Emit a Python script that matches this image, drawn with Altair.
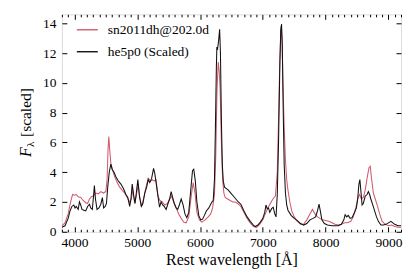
import altair as alt
import pandas as pd

series_names = ["sn2011dh@202.0d", "he5p0 (Scaled)"]
series_colors = ["#cf5b6f", "#111111"]

red_wave = [3800, 3850, 3900, 3940, 3970, 4000, 4030, 4060, 4100, 4140, 4180, 4210, 4240, 4270, 4300,
            4340, 4380, 4420, 4460, 4500, 4520, 4535, 4548, 4560, 4580, 4610, 4640, 4680, 4720, 4760,
            4800, 4840, 4880, 4905, 4930, 4960, 4985, 5015, 5040, 5070, 5100, 5140, 5175, 5210, 5240,
            5270, 5300, 5330, 5360, 5400, 5440, 5480, 5520, 5545, 5580, 5620, 5660, 5700, 5740, 5780,
            5820, 5860, 5890, 5920, 5950, 5990, 6030, 6080, 6130, 6170, 6200, 6230, 6250, 6270, 6290,
            6305, 6320, 6340, 6360, 6380, 6400, 6440, 6480, 6520, 6560, 6600, 6650, 6700, 6750, 6800,
            6850, 6900, 6950, 7000, 7040, 7080, 7120, 7160, 7200, 7230, 7250, 7270, 7290, 7305, 7320,
            7340, 7360, 7380, 7400, 7430, 7460, 7500, 7550, 7600, 7650, 7700, 7750, 7790, 7830, 7870,
            7910, 7950, 8000, 8050, 8100, 8150, 8200, 8250, 8300, 8350, 8400, 8440, 8480, 8510, 8540,
            8570, 8600, 8630, 8660, 8690, 8710, 8730, 8760, 8790, 8820, 8860, 8900, 8950, 9000, 9050,
            9100, 9150, 9200]
red_flux = [0.4, 0.6, 1.2, 2.0, 2.5, 2.45, 2.5, 2.35, 2.3, 2.1, 1.95, 1.9, 2.2, 2.35, 2.4,
            2.6, 2.55, 2.7, 2.6, 2.7, 3.5, 5.5, 6.4, 5.6, 4.6, 4.1, 3.7, 3.3, 3.0, 2.8,
            2.6, 2.3, 2.0, 2.2, 2.8, 1.9, 2.4, 3.2, 2.3, 1.7, 2.2, 3.0, 3.6, 3.4, 3.5,
            3.4, 3.5, 2.4, 2.1, 2.0, 1.8, 1.9, 2.2, 2.4, 2.0, 1.6, 1.2, 0.9, 0.65, 0.6,
            1.0, 2.4, 3.3, 2.6, 1.3, 0.8, 0.65, 0.8, 1.0, 1.2, 1.6, 2.5, 5.0, 9.5, 11.4,
            10.8, 9.6, 6.0, 3.5, 2.6, 2.3, 2.2, 2.1, 2.0, 2.0, 1.9, 1.7, 1.3, 0.9, 0.6,
            0.35, 0.3, 0.5, 0.8, 1.2, 1.6, 1.9, 2.2, 2.4, 4.0, 7.5, 11.5, 13.8, 13.0, 10.0,
            7.0, 4.8, 3.5, 2.8, 2.0, 1.4, 1.0, 0.7, 0.5, 0.5, 0.8, 1.2, 1.5, 1.2, 1.0,
            0.9, 0.8, 0.75, 0.7, 0.6, 0.5, 0.45, 0.5, 0.6, 0.6, 0.7, 1.0, 1.6, 2.2, 2.5,
            2.2, 2.3, 2.8, 3.6, 4.3, 4.4, 3.6, 2.6, 2.2, 1.8, 1.2, 0.7, 0.5, 0.4, 0.45,
            0.35, 0.3, 0.3]

black_wave = [3800, 3850, 3900, 3930, 3960, 3990, 4010, 4030, 4060, 4080, 4100, 4120, 4150, 4180, 4210,
              4240, 4260, 4285, 4300, 4318, 4335, 4360, 4390, 4420, 4445, 4465, 4490, 4510, 4530, 4555,
              4580, 4600, 4630, 4660, 4700, 4740, 4780, 4820, 4850, 4880, 4900, 4920, 4945, 4965, 4985,
              5010, 5035, 5065, 5090, 5120, 5150, 5175, 5200, 5230, 5260, 5280, 5300, 5330, 5355, 5380,
              5405, 5430, 5460, 5490, 5515, 5540, 5565, 5590, 5620, 5645, 5670, 5700, 5730, 5760, 5790,
              5820, 5850, 5880, 5900, 5925, 5950, 5980, 6010, 6040, 6070, 6100, 6140, 6170, 6190, 6210,
              6230, 6245, 6260, 6268, 6280, 6295, 6312, 6325, 6340, 6355, 6370, 6390, 6420, 6450, 6490,
              6530, 6570, 6610, 6650, 6700, 6750, 6800, 6850, 6880, 6920, 6960, 7000, 7030, 7050, 7070,
              7090, 7110, 7140, 7165, 7190, 7210, 7230, 7250, 7270, 7285, 7298, 7310, 7325, 7340, 7360,
              7380, 7400, 7450, 7500, 7550, 7600, 7650, 7700, 7750, 7800, 7840, 7870, 7895, 7915, 7940,
              7980, 8030, 8100, 8150, 8200, 8250, 8290, 8310, 8335, 8360, 8390, 8420, 8460, 8490, 8510,
              8530, 8545, 8560, 8580, 8600, 8630, 8660, 8680, 8700, 8720, 8750, 8780, 8810, 8840, 8880,
              8920, 8960, 9000, 9040, 9070, 9100, 9150, 9200]
black_flux = [0.3, 0.4, 0.9, 1.4, 1.7, 1.8, 1.6, 1.7, 1.5, 2.0, 1.8, 1.5, 1.45, 1.4, 1.7,
              1.85, 1.6, 1.5, 2.2, 3.1, 2.2, 1.5, 1.6, 1.85, 2.3, 1.6, 1.7, 1.9, 3.0, 4.0,
              4.55, 4.2, 4.0, 3.7, 3.4, 3.2, 2.9, 2.5, 2.3, 1.7, 2.2, 3.2, 2.4, 1.9, 2.6,
              3.5, 2.4, 1.7, 1.9, 2.6, 3.0, 3.5, 3.3, 3.6, 4.25, 3.9, 3.3, 2.4, 1.65, 2.0,
              1.8, 1.7, 1.5, 1.9, 2.2, 2.7, 2.3, 1.9, 1.6, 1.5, 1.8, 2.2, 1.8, 1.2, 0.95,
              1.3, 2.7, 4.1, 4.2, 3.4, 2.0, 1.1, 0.8, 0.85, 1.1, 1.4, 1.6, 1.85, 2.0, 2.1,
              3.5, 7.0, 11.0, 12.4, 12.3, 12.8, 13.6, 12.0, 7.5, 4.5, 3.4, 3.0, 2.9, 2.8, 2.6,
              2.4, 2.2, 2.0, 1.85, 1.4, 1.0, 0.7, 0.45, 0.35, 0.45, 0.65, 0.9, 1.3, 1.8, 1.55,
              1.6, 1.3, 1.55, 1.65, 1.2, 1.0, 2.5, 6.0, 11.0, 13.5, 13.95, 12.5, 8.0, 4.5, 2.6,
              1.8, 1.45, 1.1, 0.9, 0.75, 0.55, 0.45, 0.55, 0.8, 0.9, 1.0, 1.4, 1.85, 1.4, 0.8,
              0.55, 0.45, 0.4, 0.4, 0.4, 0.5, 0.8, 1.15, 1.0, 1.1, 0.9, 0.95, 1.3, 1.6, 2.2,
              3.2, 3.5, 2.8, 1.8, 1.9, 2.4, 2.5, 2.7, 2.5, 2.2, 1.8, 1.4, 1.0, 0.7, 0.45,
              0.45, 0.5, 0.6, 0.7, 0.6, 0.5, 0.4, 0.4]

x_major = [4000, 5000, 6000, 7000, 8000, 9000]
x_minor = [w for w in range(3800, 9201, 100) if w % 1000 != 0]
y_major = [0, 2, 4, 6, 8, 10, 12, 14]
x_title = "Rest wavelength [Å]"

df = pd.concat([
    pd.DataFrame({"wave": red_wave, "flux": red_flux, "series": series_names[0], "k": 0}),
    pd.DataFrame({"wave": black_wave, "flux": black_flux, "series": series_names[1], "k": 1}),
], ignore_index=True)

FONT = "Liberation Serif"
W, H = 340, 218
xscale = alt.Scale(domain=[3800, 9200], nice=False, zero=False)
yscale = alt.Scale(domain=[0, 14.6], nice=False, zero=True)

base = alt.Chart(df)

lines = base.mark_line(strokeWidth=1.05, clip=True).encode(
    x=alt.X("wave:Q", scale=xscale,
            axis=alt.Axis(values=x_major, format="d", ticks=False, tickSize=0, domain=False, grid=False,
                          labelFont=FONT, labelFontSize=13.5, labelColor="black", labelPadding=4,
                          title=x_title, titleFont=FONT, titleFontSize=16, titleFontWeight="normal",
                          titleColor="black", titleBaseline="alphabetic", titleY=33, orient="bottom")),
    y=alt.Y("flux:Q", scale=yscale,
            axis=alt.Axis(values=y_major, format="d", ticks=False, tickSize=0, domain=False, grid=False,
                          labelFont=FONT, labelFontSize=13.5, labelColor="black", labelPadding=6,
                          title=None, orient="left")),
    color=alt.Color("series:N", scale=alt.Scale(domain=series_names, range=series_colors),
                    legend=alt.Legend(title=None, orient="none", legendX=14, legendY=4,
                                      symbolType="stroke", symbolSize=441, symbolStrokeWidth=1.4,
                                      labelFont=FONT, labelFontSize=13.5, labelColor="black",
                                      labelOffset=9, rowPadding=4, padding=0)),
    order=alt.Order("k:Q"),
)

def tick_layer(xorient, xvals, xsize, yorient=None, ysize=5):
    xax = alt.Axis(orient=xorient, offset=-xsize, tickSize=xsize, values=xvals, labels=False,
                   domain=False, grid=False, title=None, tickColor="black", tickWidth=1)
    if yorient is None:
        yax = None
    else:
        yax = alt.Axis(orient=yorient, offset=-ysize, tickSize=ysize, values=y_major, labels=False,
                       domain=False, grid=False, title=None, tickColor="black", tickWidth=1)
    return base.mark_line(strokeOpacity=0).encode(
        x=alt.X("wave:Q", scale=xscale, axis=xax),
        y=alt.Y("flux:Q", scale=yscale, axis=yax),
        detail="series:N",
    )

t1 = tick_layer("bottom", x_major, 5, "left", 5)
t2 = tick_layer("bottom", x_minor, 2.5, "right", 5)
t3 = tick_layer("top", x_major, 5)
t4 = tick_layer("top", x_minor, 2.5)

title_df = pd.DataFrame({"t": ["F"]})
yt_F = alt.Chart(title_df).mark_text(text="F", font=FONT, fontSize=16, fontStyle="italic", angle=270,
                                     align="left", baseline="alphabetic", color="black").encode(
    x=alt.value(-31), y=alt.value(143))
yt_l = alt.Chart(title_df).mark_text(text="λ", font=FONT, fontSize=11, angle=270,
                                     align="left", baseline="alphabetic", color="black").encode(
    x=alt.value(-28), y=alt.value(133))
yt_s = alt.Chart(title_df).mark_text(text="[scaled]", font=FONT, fontSize=15.5, angle=270,
                                     align="left", baseline="alphabetic", color="black").encode(
    x=alt.value(-31), y=alt.value(123))

chart = alt.layer(lines, t1, t2, t3, t4, yt_F, yt_l, yt_s).resolve_axis(
    x="independent", y="independent"
).properties(
    width=W, height=H,
    autosize=alt.AutoSizeParams(type="none"),
    padding={"left": 54, "top": 6, "right": 2, "bottom": 44},
).configure_view(stroke="black", strokeWidth=1).configure(background="white")

chart.save("out.html", embed_options={"renderer": "svg", "actions": False})
